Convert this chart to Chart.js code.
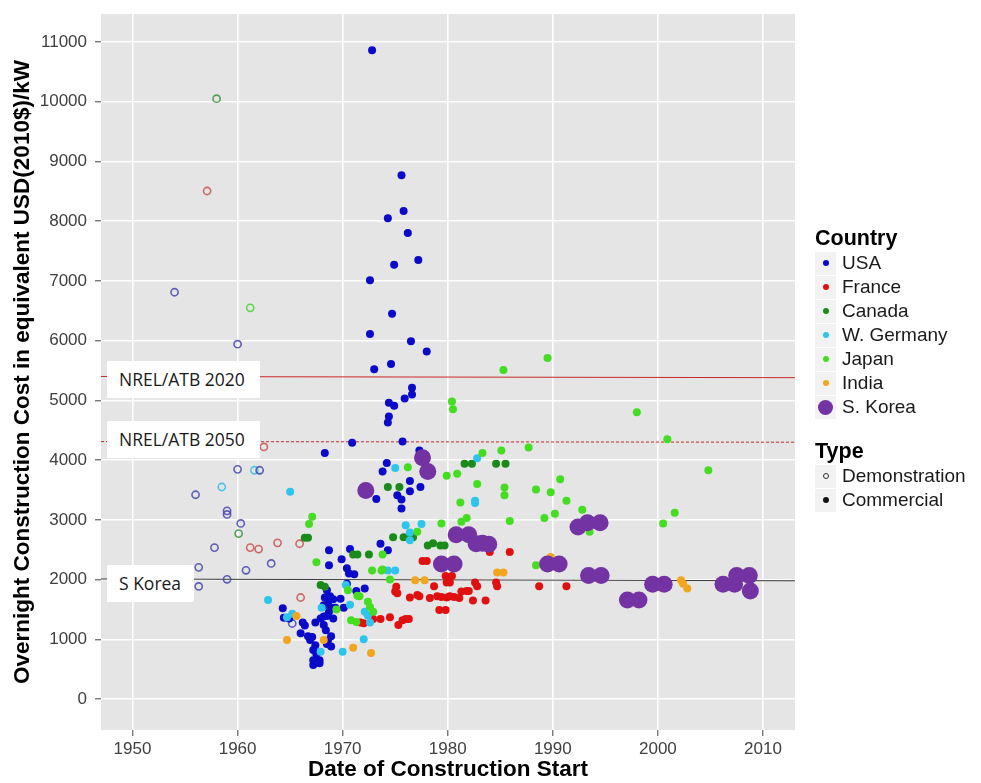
<!DOCTYPE html>
<html>
<head>
<meta charset="utf-8">
<script src="https://cdn.jsdelivr.net/npm/chart.js@4.4.1/dist/chart.umd.min.js"></script>
<style>
  body { margin: 0; background: #fff; }
  #wrap { position: relative; width: 981px; height: 783px; }
  .note {
    position: absolute; background: #fff; color: #1a1a1a;
    font-family: "Open Sans", "Noto Sans", sans-serif; font-size: 17.5px;
    line-height: 37px; padding-left: 12px; box-sizing: border-box;
  }
  .leg { position: absolute; left: 815px; font-family: "Liberation Sans", Arial, sans-serif; color: #1a1a1a; }
  .leg h4 { margin: 0; font-size: 21.5px; font-weight: bold; height: 26px; line-height: 26px; color: #000; }
  .row { height: 24px; display: flex; align-items: center; font-size: 19px; }
  .key { width: 21px; height: 23px; background: #f2f2f2; margin-right: 6px; display: flex; align-items: center; justify-content: center; }
  .dot { width: 6px; height: 6px; border-radius: 50%; }
</style>
</head>
<body>
<div id="wrap">
  <canvas id="grafico" width="981" height="783"></canvas>
  <div class="note" style="left:107px; top:361px; width:153px; height:37px;">NREL/ATB 2020</div>
  <div class="note" style="left:107px; top:421px; width:153px; height:37px;">NREL/ATB 2050</div>
  <div class="note" style="left:107px; top:565px; width:87px; height:37px;">S Korea</div>
  <div class="leg" id="legCountry" style="top:225px;"></div>
  <div class="leg" id="legType" style="top:438px;"></div>
</div>
<script>
// --- datos ---
const xTicks = [1950, 1960, 1970, 1980, 1990, 2000, 2010];
const yTicks = [0, 1000, 2000, 3000, 4000, 5000, 6000, 7000, 8000, 9000, 10000, 11000];

const countries = ['USA', 'France', 'Canada', 'W. Germany', 'Japan', 'India', 'S. Korea'];
const colors = ['#0a0ac8', '#e01010', '#1a8a1a', '#2ec4ee', '#44dd22', '#f2a51f', '#7433a3'];
const demoColors = ['rgba(60,60,170,0.8)', 'rgba(200,70,70,0.8)', 'rgba(50,140,50,0.8)', 'rgba(60,190,230,0.9)', 'rgba(80,210,60,0.9)'];

// USA
const usaComYear = [1972.8, 1975.6, 1975.8, 1974.3, 1976.2, 1977.2, 1974.9, 1972.6, 1974.7, 1972.6, 1976.5, 1978.0,
  1974.6, 1973.0, 1976.6, 1976.6, 1975.9, 1974.4, 1974.9, 1974.4, 1974.3, 1975.7, 1970.9, 1968.3, 1977.3, 1974.2,
  1973.8, 1976.4, 1976.4, 1977.4, 1975.2, 1975.6, 1975.6, 1973.2, 1973.6, 1974.3, 1968.7, 1970.7, 1969.9, 1968.7,
  1970.4, 1970.6, 1971.1, 1970.4, 1968.5, 1972.1, 1971.3, 1968.3, 1968.8, 1969.1, 1968.6, 1968.2, 1968.9, 1968.7,
  1968.5, 1969.8, 1969.3, 1970.1, 1964.3, 1964.4, 1964.9, 1966.2, 1966.4, 1967.4, 1968.2, 1967.9, 1969.1, 1966.0,
  1966.7, 1967.1, 1966.9, 1968.2, 1968.4, 1968.9, 1968.6, 1968.5, 1968.9, 1967.4, 1967.2, 1967.5, 1967.2, 1967.8,
  1967.2, 1967.8];
const usaComCost = [10860, 8770, 8170, 8050, 7800, 7350, 7270, 7010, 6450, 6110, 5990, 5820,
  5610, 5520, 5210, 5100, 5030, 4960, 4910, 4730, 4630, 4310, 4290, 4120, 4160, 3950,
  3810, 3650, 3480, 3550, 3410, 3340, 3190, 3350, 2600, 2490, 2490, 2510, 2340, 2240,
  2190, 2100, 2090, 1930, 1820, 1850, 1810, 1700, 1720, 1670, 1600, 1570, 1530, 1460,
  1390, 1680, 1530, 1530, 1520, 1360, 1350, 1280, 1230, 1280, 1380, 1350, 1350, 1100,
  1050, 1040, 990, 1240, 1150, 1050, 980, 920, 880, 900, 820, 750, 650, 650,
  570, 600];
const usaDemoYear = [1954.0, 1960.0, 1960.0, 1962.1, 1956.0, 1959.0, 1959.0, 1960.3, 1957.8, 1956.3, 1960.8, 1963.2, 1959.0, 1956.3, 1965.2];
const usaDemoCost = [6810, 5940, 3845, 3830, 3420, 3150, 3090, 2940, 2535, 2205, 2155, 2270, 2005, 1885, 1265];

// France
const fraComYear = [1977.6, 1978.0, 1979.8, 1980.4, 1979.9, 1980.2, 1975.1, 1975.0, 1975.2, 1976.4, 1977.1, 1977.3,
  1978.3, 1978.7, 1979.0, 1979.4, 1979.9, 1980.2, 1980.6, 1981.1, 1981.3, 1981.8, 1979.2, 1979.8, 1971.7, 1972.0,
  1972.9, 1973.6, 1974.5, 1975.3, 1975.7, 1976.0, 1976.3, 1982.6, 1982.8, 1984.6, 1984.7, 1988.7, 1991.3, 1982.0,
  1982.4, 1983.6, 1984.0, 1985.9];
const fraComCost = [2310, 2310, 2060, 2060, 1950, 1950, 1880, 1800, 1770, 1700, 1740, 1720,
  1690, 1890, 1720, 1710, 1700, 1720, 1710, 1690, 1800, 1810, 1490, 1490, 1280, 1270,
  1340, 1340, 1370, 1240, 1320, 1340, 1340, 1950, 1890, 1950, 1890, 1890, 1890, 1810,
  1650, 1650, 2460, 2460];
const fraDemoYear = [1957.1, 1962.5, 1961.2, 1962.0, 1963.8, 1965.9, 1966.0];
const fraDemoCost = [8505, 4220, 2535, 2510, 2615, 2600, 1700];

// Canada
const canComYear = [1966.4, 1966.7, 1971.0, 1971.4, 1972.5, 1967.9, 1968.3, 1974.3, 1975.4, 1974.8, 1975.8, 1976.4,
  1976.7, 1978.1, 1978.6, 1979.3, 1979.7, 1981.6, 1982.3, 1984.6, 1985.5];
const canComCost = [2700, 2700, 2420, 2420, 2420, 1910, 1880, 3550, 3550, 2710, 2710, 2710,
  2710, 2570, 2610, 2570, 2570, 3940, 3940, 3940, 3940];
const canDemoYear = [1958.0, 1960.1];
const canDemoCost = [10050, 2770];

// W. Germany
const gerComYear = [1965.0, 1962.9, 1965.2, 1964.7, 1968.0, 1970.3, 1970.7, 1972.1, 1972.4, 1972.6, 1967.9, 1970.0,
  1972.0, 1975.0, 1976.0, 1977.5, 1976.4, 1976.4, 1974.3, 1975.0, 1982.8, 1982.6, 1982.6];
const gerComCost = [3470, 1660, 1430, 1370, 1530, 1910, 1580, 1460, 1400, 1280, 790, 790,
  1000, 3870, 2910, 2930, 2790, 2660, 2150, 2150, 4030, 3320, 3280];
const gerDemoYear = [1961.6, 1958.5];
const gerDemoCost = [3830, 3550];

// Japan
const jpnComYear = [1980.4, 1980.5, 1985.3, 1989.5, 1998.0, 2000.9, 1976.2, 1979.9, 1980.9, 1981.2, 1983.3, 1985.1,
  1987.7, 1982.8, 1985.4, 1985.4, 1988.4, 2004.8, 1990.7, 1989.8, 1991.3, 1985.9, 1989.2, 1990.2, 1992.8, 2001.6,
  2000.5, 1993.5, 1988.4, 1977.1, 1979.4, 1981.3, 1981.8, 1967.1, 1966.8, 1967.5, 1973.8, 1972.8, 1973.7, 1973.8,
  1974.5, 1970.5, 1971.4, 1971.6, 1972.4, 1972.6, 1972.9, 1969.4, 1970.8, 1971.3];
const jpnComCost = [4980, 4850, 5510, 5710, 4800, 4350, 3880, 3740, 3770, 3290, 4120, 4160,
  4210, 3600, 3540, 3410, 3510, 3830, 3680, 3460, 3320, 2980, 3030, 3100, 3170, 3120,
  2940, 2800, 2240, 2800, 2940, 2970, 3030, 3050, 2930, 2290, 2420, 2150, 2150, 2170,
  2000, 1820, 1730, 1720, 1630, 1540, 1460, 1500, 1320, 1290];
const jpnDemoYear = [1961.2];
const jpnDemoCost = [6550];

// India
const indComYear = [1965.6, 1964.7, 1968.2, 1971.0, 1972.7, 1976.9, 1977.8, 1984.7, 1985.3, 1989.8, 1989.8, 2002.2, 2002.4, 2002.8];
const indComCost = [1390, 990, 990, 860, 770, 1990, 1990, 2120, 2120, 2380, 2320, 1990, 1930, 1850];

// S. Korea
const korComYear = [1972.2, 1977.6, 1978.1, 1980.8, 1982.0, 1982.7, 1983.3, 1983.9, 1979.4, 1980.6, 1989.5, 1990.6,
  1992.4, 1993.3, 1994.5, 1993.4, 1994.6, 1997.1, 1998.2, 1999.5, 2000.6, 2006.2, 2007.3, 2007.5, 2008.7, 2008.8];
const korComCost = [3490, 4040, 3810, 2750, 2750, 2600, 2610, 2590, 2260, 2260, 2260, 2260,
  2880, 2950, 2950, 2070, 2070, 1660, 1660, 1920, 1920, 1920, 1920, 2070, 2070, 1810];

// lineas de referencia (nivel en el borde izquierdo y derecho)
const refNames = ['NREL/ATB 2020', 'NREL/ATB 2050', 'S Korea'];
const refLeft = [5400, 4310, 2010];
const refRight = [5380, 4300, 1980];

const X_MIN = 1947.0, X_MAX = 2013.05, Y_MIN = -518, Y_MAX = 11468;

function pts(xs, ys) { return xs.map((x, i) => ({ x: x, y: ys[i] })); }

const comData = [
  pts(usaComYear, usaComCost), pts(fraComYear, fraComCost), pts(canComYear, canComCost),
  pts(gerComYear, gerComCost), pts(jpnComYear, jpnComCost), pts(indComYear, indComCost),
  pts(korComYear, korComCost)
];
const demoData = [
  pts(usaDemoYear, usaDemoCost), pts(fraDemoYear, fraDemoCost), pts(canDemoYear, canDemoCost),
  pts(gerDemoYear, gerDemoCost), pts(jpnDemoYear, jpnDemoCost)
];

const datasets = [];
// S. Korea encima de todo, luego el resto
comData.forEach((d, i) => {
  const big = i === 6;
  datasets.push({
    label: countries[i], data: d, order: big ? 0 : 10 - i,
    pointRadius: big ? 8.5 : 4, pointBorderWidth: 0,
    pointBackgroundColor: colors[i], pointBorderColor: colors[i]
  });
});
demoData.forEach((d, i) => {
  datasets.push({
    label: countries[i] + ' demo', data: d, order: 20,
    pointRadius: 3.6, pointBorderWidth: 1.6,
    pointBackgroundColor: 'rgba(0,0,0,0)', pointBorderColor: demoColors[i]
  });
});
const refStyles = [
  { color: '#c8282a', dash: [] },
  { color: '#c8282a', dash: [3, 2] },
  { color: '#3a3a3a', dash: [] }
];
refNames.forEach((n, i) => {
  datasets.push({
    type: 'line', label: n, showLine: true, order: 30,
    data: [{ x: X_MIN, y: refLeft[i] }, { x: X_MAX, y: refRight[i] }],
    borderColor: refStyles[i].color, borderDash: refStyles[i].dash, borderWidth: 1,
    pointRadius: 0
  });
});

const fondoPanel = {
  id: 'fondoPanel',
  beforeDraw(chart) {
    const { ctx, chartArea: a } = chart;
    ctx.save();
    ctx.fillStyle = '#e5e5e5';
    ctx.fillRect(a.left, a.top, a.right - a.left, a.bottom - a.top);
    ctx.restore();
  }
};

const tickFont = { family: '"Liberation Sans", Arial, sans-serif', size: 17 };
const titleFont = { family: '"Liberation Sans", Arial, sans-serif', size: 22.5, weight: 'bold' };

new Chart(document.getElementById('grafico'), {
  type: 'scatter',
  data: { datasets: datasets },
  options: {
    responsive: false,
    animation: false,
    devicePixelRatio: 1,
    layout: { padding: { left: 0, right: 186, top: 14, bottom: 0 } },
    plugins: { legend: { display: false }, tooltip: { enabled: false } },
    scales: {
      x: {
        type: 'linear', min: X_MIN, max: X_MAX,
        afterFit: s => { s.height = 53; s.paddingLeft = 0; s.paddingRight = 0; },
        afterBuildTicks: s => { s.ticks = xTicks.map(v => ({ value: v })); },
        ticks: { color: '#404040', font: tickFont, padding: 3, maxRotation: 0, callback: v => String(v) },
        grid: { color: '#ffffff', lineWidth: 1.6, tickColor: '#404040', tickLength: 6, tickWidth: 1 },
        border: { display: false },
        title: { display: true, text: 'Date of Construction Start', color: '#000', font: titleFont, padding: { top: 0, bottom: 0 } }
      },
      y: {
        type: 'linear', min: Y_MIN, max: Y_MAX,
        afterFit: s => { s.width = 101; s.paddingTop = 0; s.paddingBottom = 0; },
        afterBuildTicks: s => { s.ticks = yTicks.map(v => ({ value: v })); },
        ticks: { color: '#404040', font: tickFont, padding: 8, callback: v => String(v) },
        grid: { color: '#ffffff', lineWidth: 1.6, tickColor: '#404040', tickLength: 6, tickWidth: 1 },
        border: { display: false },
        title: { display: true, text: 'Overnight Construction Cost in equivalent USD(2010$)/kW', color: '#000', font: titleFont, padding: { top: 9, bottom: 0 } }
      }
    }
  },
  plugins: [fondoPanel]
});

// --- leyenda ---
const legC = document.getElementById('legCountry');
legC.innerHTML = '<h4>Country</h4>' + countries.map((c, i) => {
  const s = i === 6 ? 'width:15px;height:15px;' : '';
  return `<div class="row"><span class="key"><span class="dot" style="background:${colors[i]};${s}"></span></span>${c}</div>`;
}).join('');
const legT = document.getElementById('legType');
legT.innerHTML = '<h4>Type</h4>' +
  '<div class="row"><span class="key"><span class="dot" style="width:4px;height:4px;border:1px solid #333;"></span></span>Demonstration</div>' +
  '<div class="row"><span class="key"><span class="dot" style="background:#111;"></span></span>Commercial</div>';
</script>
</body>
</html>
